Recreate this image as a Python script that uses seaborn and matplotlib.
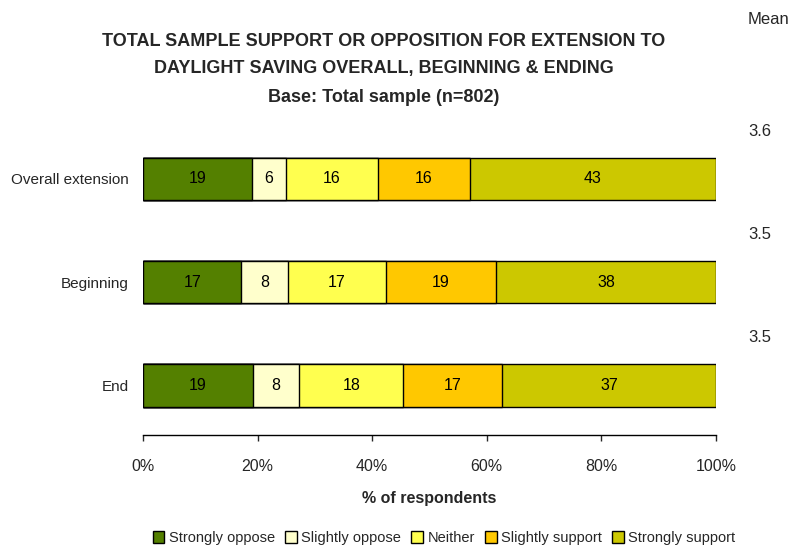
import numpy as np
import pandas as pd
import matplotlib
matplotlib.use("Agg")
import matplotlib.pyplot as plt
import seaborn as sns
from matplotlib.patches import Patch
from matplotlib.transforms import blended_transform_factory

# ---- data ----
categories = ["Overall extension", "Beginning", "End"]
responses = ["Strongly oppose", "Slightly oppose", "Neither", "Slightly support", "Strongly support"]
strongly_oppose = [19, 17, 19]
slightly_oppose = [6, 8, 8]
neither = [16, 17, 18]
slightly_support = [16, 19, 17]
strongly_support = [43, 38, 37]
means = ["3.6", "3.5", "3.5"]
xtick_vals = [0, 20, 40, 60, 80, 100]

colors = ["#548000", "#FFFFCC", "#FFFF4F", "#FFC800", "#CCC800"]

sns.set_style("white")
plt.rcParams["font.family"] = ["Liberation Sans", "DejaVu Sans"]

df = pd.DataFrame(
    [strongly_oppose, slightly_oppose, neither, slightly_support, strongly_support],
    index=responses, columns=categories,
).T
pct = df.div(df.sum(axis=1), axis=0) * 100   # 100% stacked
cum = pct.cumsum(axis=1)

fig = plt.figure(figsize=(7.98, 5.49), dpi=100)
ax = fig.add_axes([0.1792, 0.2077, 0.718, 0.5646])

# draw stacked bars back to front (cumulative right edges)
for resp, col in reversed(list(zip(responses, colors))):
    sns.barplot(x=cum[resp].values, y=categories, orient="h", color=col,
                edgecolor="black", linewidth=1.0, width=0.41, ax=ax,
                saturation=1)

# segment value labels
for i, cat in enumerate(categories):
    left = 0
    for resp in responses:
        w = pct.loc[cat, resp]
        ax.text(left + w / 2, i, f"{df.loc[cat, resp]}", ha="center", va="center",
                fontsize=11.5, color="black")
        left += w

# mean column
trans = blended_transform_factory(ax.transAxes, ax.transData)
for i, m in enumerate(means):
    ax.text(1.056, i - 0.46, m, transform=trans, ha="left", va="center", fontsize=12)
fig.text(748 / 798, 1 - 20 / 549, "Mean", ha="left", va="center", fontsize=12)

ax.set_xlim(0, 100)
ax.set_ylim(2.48, -0.52)
ax.set_xticks(xtick_vals)
ax.set_xticklabels([f"{v}%" for v in xtick_vals], fontsize=11.5)
ax.tick_params(axis="x", direction="out", length=4.5, width=1, pad=13, bottom=True)
ax.tick_params(axis="y", length=0, pad=10, labelsize=11)
ax.set_xlabel("% of respondents", fontsize=11.5, fontweight="bold", labelpad=12)
ax.set_ylabel("")
for s in ["top", "right", "left"]:
    ax.spines[s].set_visible(False)
ax.spines["bottom"].set_color("black")
ax.spines["bottom"].set_linewidth(1)

fig.text(384 / 798, 1 - 42 / 549, "TOTAL SAMPLE SUPPORT OR OPPOSITION FOR EXTENSION TO",
         ha="center", va="center", fontsize=13, fontweight="bold")
fig.text(384 / 798, 1 - 68 / 549, "DAYLIGHT SAVING OVERALL, BEGINNING & ENDING",
         ha="center", va="center", fontsize=13, fontweight="bold")
fig.text(384 / 798, 1 - 98 / 549, "Base: Total sample (n=802)",
         ha="center", va="center", fontsize=13, fontweight="bold")

handles = [Patch(facecolor=c, edgecolor="black", linewidth=1.0) for c in colors]
fig.legend(handles, responses, loc="center", bbox_to_anchor=(444 / 798, 1 - 538 / 549),
           ncol=5, frameon=False, fontsize=10.5, handlelength=0.8, handleheight=0.8,
           handletextpad=0.3, columnspacing=0.7, borderaxespad=0)

fig.savefig("out.png", dpi=100)
